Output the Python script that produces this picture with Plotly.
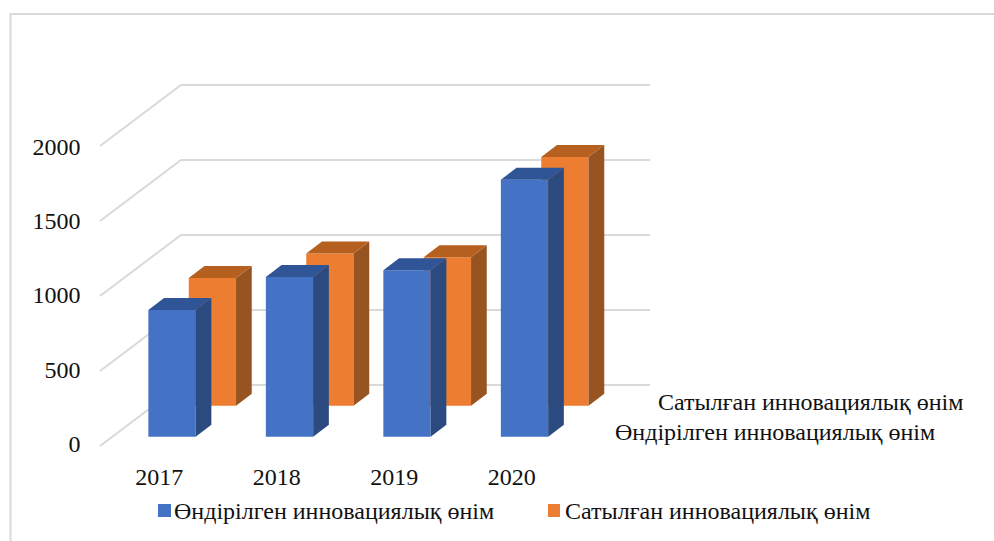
import plotly.graph_objects as go

years = [2017, 2018, 2019, 2020]
produced = [845, 1065, 1110, 1713]
sold = [851, 1015, 990, 1658]
grid_values = [0, 500, 1000, 1500, 2000]
name_produced = "Өндірілген инновациялық өнім"
name_sold = "Сатылған инновациялық өнім"

COL = dict(
    bf="#4472C4", bs="#2A4A80", bt="#2F5597",
    of="#ED7D31", os="#985420", ot="#B5601F",
    grid="#D9D9D9", text="#111111",
)
FONT = "Liberation Serif"
W, H = 994, 541

# oblique projection, in axis units
PX_PER_VAL = 0.15
PX_PER_CAT = 117.5
BAR_W = 47.3 / PX_PER_CAT
DEPTH_X = 15.7 / PX_PER_CAT
DEPTH_Y = 12 / PX_PER_VAL
BLUE_BASE = 9.3 / PX_PER_VAL
ORANGE_BASE = 40.3 / PX_PER_VAL
ORANGE_SHIFT = 40.4 / PX_PER_CAT
GRID_L = 2017 + (100 - 172) / PX_PER_CAT
GRID_M = 2017 + (181 - 172) / PX_PER_CAT
GRID_R = 2017 + (650 - 172) / PX_PER_CAT
GRID_DY = 61 / PX_PER_VAL


def faces(xs, vals, base):
    fx, fy, sx, sy, tx, ty = [], [], [], [], [], []
    for x, v in zip(xs, vals):
        l, r = x - BAR_W / 2, x + BAR_W / 2
        b, t = base, base + v
        fx += [l, r, r, l, l, None]
        fy += [b, b, t, t, b, None]
        sx += [r, r + DEPTH_X, r + DEPTH_X, r, r, None]
        sy += [b, b + DEPTH_Y, t + DEPTH_Y, t, b, None]
        tx += [l, r, r + DEPTH_X, l + DEPTH_X, l, None]
        ty += [t, t, t + DEPTH_Y, t + DEPTH_Y, t, None]
    return (fx, fy), (sx, sy), (tx, ty)


def poly(xy, color, name):
    return go.Scatter(x=xy[0], y=xy[1], mode="lines", fill="toself", fillcolor=color,
                      line=dict(width=0, color=color), name=name, showlegend=False,
                      hoverinfo="skip")


fig = go.Figure()

gx, gy = [], []
for v in grid_values:
    gx += [GRID_L, GRID_M, GRID_R, None]
    gy += [v, v + GRID_DY, v + GRID_DY, None]
fig.add_trace(go.Scatter(x=gx, y=gy, mode="lines", line=dict(color=COL["grid"], width=2),
                         showlegend=False, hoverinfo="skip"))

of, os_, ot = faces([y + ORANGE_SHIFT for y in years], sold, ORANGE_BASE)
bf, bs, bt = faces(years, produced, BLUE_BASE)
fig.add_trace(poly(of, COL["of"], name_sold))
fig.add_trace(poly(os_, COL["os"], name_sold))
fig.add_trace(poly(ot, COL["ot"], name_sold))
fig.add_trace(poly(bf, COL["bf"], name_produced))
fig.add_trace(poly(bs, COL["bs"], name_produced))
fig.add_trace(poly(bt, COL["bt"], name_produced))

# invisible carriers for the two label axes
fig.add_trace(go.Scatter(x=years, y=[0] * 4, xaxis="x2", yaxis="y", mode="markers",
                         marker=dict(opacity=0), showlegend=False, hoverinfo="skip"))
fig.add_trace(go.Scatter(x=[years[0]] * 5, y=grid_values, xaxis="x", yaxis="y2", mode="markers",
                         marker=dict(opacity=0), showlegend=False, hoverinfo="skip"))

x_at = lambda px: 2017 + (px - 172) / PX_PER_CAT
LEFT = 81.5
tick_font = dict(family=FONT, size=24, color=COL["text"])
LABEL_SHIFT = 12.7 / PX_PER_CAT
LABEL_PX_PER_VAL = 0.14845

annotations = []
for text, px, py in [
    (name_sold, 656, 402),
    (name_produced, 613, 432),
    (name_produced, 172, 511),
    (name_sold, 563, 511),
]:
    annotations.append(dict(text=text, x=px / W, y=1 - py / H, xref="paper", yref="paper",
                            xanchor="left", yanchor="middle", showarrow=False,
                            font=dict(family=FONT, size=24, color=COL["text"])))

shapes = [
    dict(type="path", xref="paper", yref="paper",
         path=f"M {1} {1-14/H} L {10.5/W} {1-14/H} L {10.5/W} 0",
         line=dict(color=COL["grid"], width=2), fillcolor="rgba(0,0,0,0)"),
    dict(type="rect", xref="paper", yref="paper", x0=158 / W, x1=171 / W, y0=1 - 517 / H, y1=1 - 504 / H,
         fillcolor=COL["bf"], line=dict(width=0)),
    dict(type="rect", xref="paper", yref="paper", x0=548 / W, x1=560 / W, y0=1 - 517 / H, y1=1 - 504 / H,
         fillcolor=COL["of"], line=dict(width=0)),
]

fig.update_layout(
    width=W, height=H, margin=dict(l=0, r=0, t=0, b=0),
    paper_bgcolor="white", plot_bgcolor="white", showlegend=False,
    annotations=annotations, shapes=shapes,
    xaxis=dict(domain=[LEFT / W, 1], range=[x_at(LEFT), x_at(W)], visible=False),
    yaxis=dict(domain=[0, 1], range=[(446 - H) / PX_PER_VAL, 446 / PX_PER_VAL], visible=False),
    xaxis2=dict(overlaying="x", domain=[LEFT / W, 1], anchor="free", position=1 - 460 / H, side="bottom",
                range=[x_at(LEFT) + LABEL_SHIFT, x_at(W) + LABEL_SHIFT],
                tickmode="array", tickvals=years, ticklen=0, showgrid=False, zeroline=False,
                showline=False, tickfont=tick_font),
    yaxis2=dict(overlaying="y", side="left", anchor="x",
                range=[(443.5 - H) / LABEL_PX_PER_VAL, 443.5 / LABEL_PX_PER_VAL],
                tickmode="array", tickvals=grid_values, ticklen=0, showgrid=False, zeroline=False,
                showline=False, tickfont=tick_font),
)

fig.write_html("out.html", config=dict(displayModeBar=False),
               post_script="document.body.style.margin='0';")
